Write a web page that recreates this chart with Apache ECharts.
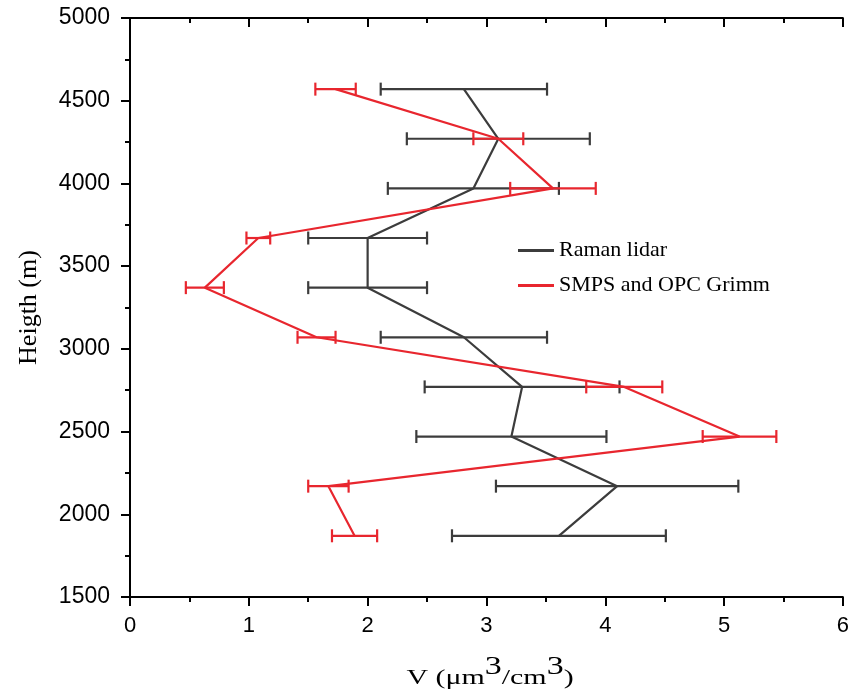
<!DOCTYPE html>
<html>
<head>
<meta charset="utf-8">
<script src="https://cdn.jsdelivr.net/npm/echarts@6/dist/echarts.min.js"></script>
<style>html,body{margin:0;padding:0;background:#fff}#c{width:852px;height:696px}</style>
</head>
<body>
<div id="c"></div>
<script>
const heights = [1870, 2170, 2470, 2770, 3070, 3370, 3670, 3970, 4270, 4570];
const ramanV = [3.61, 4.10, 3.21, 3.30, 2.81, 2.00, 2.00, 2.89, 3.10, 2.81];
const ramanErr = [0.90, 1.02, 0.80, 0.82, 0.70, 0.50, 0.50, 0.72, 0.77, 0.70];
const smpsV = [1.89, 1.67, 5.13, 4.16, 1.57, 0.63, 1.08, 3.56, 3.10, 1.73];
const smpsErr = [0.19, 0.17, 0.31, 0.32, 0.16, 0.16, 0.10, 0.36, 0.21, 0.17];
const xTicks = [0, 1, 2, 3, 4, 5, 6];
const yTicks = [1500, 2000, 2500, 3000, 3500, 4000, 4500, 5000];

const BLACK = '#3c3c3c';
const RED = '#e8262e';

function errBar(color) {
  return function (params, api) {
    const lo = api.coord([api.value(0), api.value(2)]);
    const hi = api.coord([api.value(1), api.value(2)]);
    const h = 6.5;
    const st = { stroke: color, lineWidth: 2.2 };
    return {
      type: 'group',
      children: [
        { type: 'line', shape: { x1: lo[0], y1: lo[1], x2: hi[0], y2: hi[1] }, style: st },
        { type: 'line', shape: { x1: lo[0], y1: lo[1] - h, x2: lo[0], y2: lo[1] + h }, style: st },
        { type: 'line', shape: { x1: hi[0], y1: hi[1] - h, x2: hi[0], y2: hi[1] + h }, style: st }
      ]
    };
  };
}

const ramanLine = heights.map((h, i) => [ramanV[i], h]);
const smpsLine = heights.map((h, i) => [smpsV[i], h]);
const ramanBars = heights.map((h, i) => [ramanV[i] - ramanErr[i], ramanV[i] + ramanErr[i], h]);
const smpsBars = heights.map((h, i) => [smpsV[i] - smpsErr[i], smpsV[i] + smpsErr[i], h]);

const axisLine = { show: true, lineStyle: { color: '#000', width: 2 } };
const sansFont = "'Liberation Sans', Arial, sans-serif";
const serifFont = "'Liberation Serif', 'Times New Roman', serif";

const chart = echarts.init(document.getElementById('c'));
chart.setOption({
  animation: false,
  backgroundColor: '#fff',
  grid: { left: 130, right: 6, top: 18, bottom: 99, containLabel: false },
  legend: {
    orient: 'vertical',
    left: 513,
    top: 234,
    icon: 'rect',
    itemWidth: 36,
    itemHeight: 3,
    itemGap: 12,
    data: ['Raman lidar', 'SMPS and OPC Grimm'],
    textStyle: { fontFamily: serifFont, fontSize: 22, color: '#000', lineHeight: 23 }
  },
  graphic: [
    {
      type: 'text',
      x: 490,
      y: 672,
      scaleX: 1.36,
      style: {
        text: '{a|V (μm}{s|3}{a|/cm}{s|3}{a|)}',
        align: 'center',
        verticalAlign: 'middle',
        rich: {
          a: { fontFamily: serifFont, fontSize: 22, fill: '#000', verticalAlign: 'bottom', lineHeight: 34 },
          s: { fontFamily: serifFont, fontSize: 25, fill: '#000', verticalAlign: 'top', lineHeight: 34 }
        }
      }
    }
  ],
  xAxis: [
    {
      type: 'value', min: 0, max: 6, interval: 1, position: 'bottom',
      axisLine: axisLine,
      axisTick: { show: true, length: 9, lineStyle: { color: '#000', width: 2 } },
      minorTick: { show: true, splitNumber: 2, length: 5, lineStyle: { color: '#000', width: 2 } },
      splitLine: { show: false },
      axisLabel: { margin: 18, fontFamily: sansFont, fontSize: 22, color: '#000',
        formatter: v => xTicks.includes(v) ? String(v) : '' }
    },
    {
      type: 'value', min: 0, max: 6, interval: 1, position: 'top',
      axisLine: axisLine,
      axisTick: { show: true, inside: true, length: 9, lineStyle: { color: '#000', width: 2 } },
      minorTick: { show: true, splitNumber: 2, length: 5, lineStyle: { color: '#000', width: 2 } },
      splitLine: { show: false },
      axisLabel: { show: false }
    }
  ],
  yAxis: [
    {
      type: 'value', min: 1500, max: 5000, interval: 500, position: 'left',
      axisLine: axisLine,
      axisTick: { show: true, length: 9, lineStyle: { color: '#000', width: 2 } },
      minorTick: { show: true, splitNumber: 2, length: 5, lineStyle: { color: '#000', width: 2 } },
      splitLine: { show: false },
      axisLabel: { margin: 20, fontFamily: sansFont, fontSize: 23, color: '#000',
        formatter: v => yTicks.includes(v) ? String(v) : '' },
      name: 'Heigth (m)',
      nameLocation: 'middle',
      nameGap: 88,
      nameTextStyle: { fontFamily: serifFont, fontSize: 26, color: '#000' }
    },
    {
      type: 'value', min: 1500, max: 5000, interval: 500, position: 'right',
      axisLine: axisLine,
      axisTick: { show: true, inside: true, length: 9, lineStyle: { color: '#000', width: 2 } },
      minorTick: { show: true, splitNumber: 2, length: 5, lineStyle: { color: '#000', width: 2 } },
      splitLine: { show: false },
      axisLabel: { show: false }
    }
  ],
  series: [
    {
      name: 'Raman lidar err', type: 'custom', xAxisIndex: 0, yAxisIndex: 0,
      renderItem: errBar(BLACK), encode: { x: [0, 1], y: 2 }, data: ramanBars, z: 2
    },
    {
      name: 'Raman lidar', type: 'line', xAxisIndex: 0, yAxisIndex: 0,
      data: ramanLine, symbol: 'none', color: BLACK,
      lineStyle: { color: BLACK, width: 2.2 }, z: 3
    },
    {
      name: 'SMPS err', type: 'custom', xAxisIndex: 0, yAxisIndex: 0,
      renderItem: errBar(RED), encode: { x: [0, 1], y: 2 }, data: smpsBars, z: 4
    },
    {
      name: 'SMPS and OPC Grimm', type: 'line', xAxisIndex: 0, yAxisIndex: 0,
      data: smpsLine, symbol: 'none', color: RED,
      lineStyle: { color: RED, width: 2.2 }, z: 5
    }
  ]
});
</script>
</body>
</html>
